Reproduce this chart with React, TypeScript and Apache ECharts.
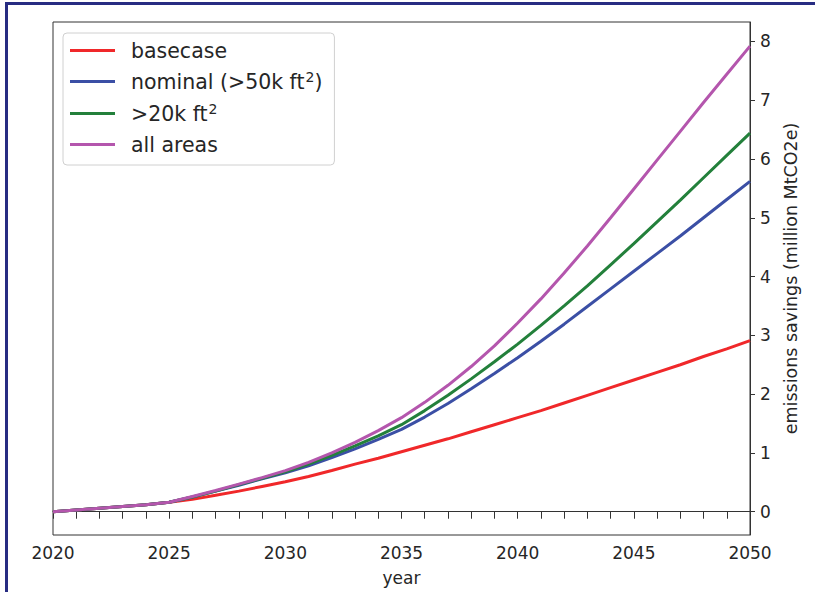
import React, { useEffect, useRef } from "react";
import * as echarts from "echarts";

// Projection years and cumulative emissions savings (million MtCO2e)
const years = [
  2020, 2021, 2022, 2023, 2024, 2025, 2026, 2027, 2028, 2029, 2030,
  2031, 2032, 2033, 2034, 2035, 2036, 2037, 2038, 2039, 2040,
  2041, 2042, 2043, 2044, 2045, 2046, 2047, 2048, 2049, 2050,
];

const basecase = [
  0, 0.03, 0.06, 0.09, 0.12, 0.16, 0.21, 0.28, 0.35, 0.43, 0.51,
  0.6, 0.7, 0.81, 0.91, 1.02, 1.13, 1.24, 1.36, 1.48, 1.6,
  1.72, 1.85, 1.98, 2.11, 2.24, 2.37, 2.5, 2.64, 2.77, 2.91,
];

const nominal = [
  0, 0.03, 0.06, 0.09, 0.12, 0.16, 0.25, 0.35, 0.45, 0.56, 0.66,
  0.78, 0.92, 1.07, 1.23, 1.4, 1.61, 1.84, 2.09, 2.35, 2.62,
  2.9, 3.19, 3.49, 3.79, 4.09, 4.39, 4.69, 5.0, 5.31, 5.62,
];

const over20k = [
  0, 0.03, 0.06, 0.09, 0.12, 0.16, 0.25, 0.35, 0.46, 0.57, 0.68,
  0.81, 0.96, 1.12, 1.29, 1.48, 1.72, 1.98, 2.26, 2.55, 2.85,
  3.17, 3.5, 3.84, 4.2, 4.56, 4.93, 5.3, 5.68, 6.06, 6.44,
];

const allAreas = [
  0, 0.03, 0.06, 0.09, 0.12, 0.16, 0.26, 0.36, 0.47, 0.58, 0.7,
  0.84, 1.0, 1.18, 1.38, 1.6, 1.86, 2.15, 2.47, 2.82, 3.21,
  3.62, 4.06, 4.52, 5.0, 5.49, 5.98, 6.47, 6.96, 7.44, 7.92,
];

const seriesNames = ["basecase", "nominal (>50k ft2)", ">20k ft2", "all areas"];
// Legend labels with the area unit's exponent raised as a superscript
const legendLabels: Record<string, string> = {
  "basecase": "{t|basecase}",
  "nominal (>50k ft2)": "{t|nominal (>50k ft}{s|2}{t|)}",
  ">20k ft2": "{t|>20k ft}{s|2}",
  "all areas": "{t|all areas}",
};
const seriesColors = ["#f0282a", "#3b4fa5", "#23803b", "#b456ad"];
const yTicks = [0, 1, 2, 3, 4, 5, 6, 7, 8];

const FONT = "DejaVu Sans";
const TEXT = "#262626";
const SPINE = "#333333";

export default function App() {
  const ref = useRef<HTMLDivElement>(null);

  useEffect(() => {
    if (!ref.current) return;
    const chart = echarts.init(ref.current, undefined, { renderer: "svg" });
    const values = [basecase, nominal, over20k, allAreas];

    chart.setOption({
      animation: false,
      backgroundColor: "#ffffff",
      textStyle: { fontFamily: FONT, color: TEXT },
      graphic: [
        { type: "rect", shape: { x: 5, y: 2, width: 810, height: 3 }, style: { fill: "#272c82" }, z: 100 },
        { type: "rect", shape: { x: 5, y: 2, width: 3, height: 590 }, style: { fill: "#272c82" }, z: 100 },
      ],
      grid: {
        left: 53,
        right: 65,
        top: 22,
        bottom: 57,
        show: true,
        borderColor: SPINE,
        borderWidth: 1,
        backgroundColor: "transparent",
      },
      legend: {
        orient: "vertical",
        left: 63,
        top: 33,
        padding: [7, 12, 10, 7],
        itemWidth: 45,
        itemHeight: 3,
        itemGap: 9,
        icon: "rect",
        borderColor: "#d0d0d0",
        borderWidth: 1,
        borderRadius: 4,
        backgroundColor: "rgba(255,255,255,0.8)",
        formatter: (name: string) => legendLabels[name] ?? name,
        textStyle: {
          fontFamily: FONT,
          color: TEXT,
          padding: [0, 0, 0, 11],
          rich: {
            t: { fontFamily: FONT, fontSize: 20.5, lineHeight: 22, color: TEXT },
            s: { fontFamily: FONT, fontSize: 14, lineHeight: 22, color: TEXT, padding: [0, 0, 9, 1] },
          },
        },
        data: seriesNames,
      },
      xAxis: {
        type: "value",
        min: 2020,
        max: 2050,
        interval: 5,
        name: "year",
        nameLocation: "middle",
        nameGap: 34,
        nameTextStyle: { fontFamily: FONT, fontSize: 17, color: TEXT },
        axisLine: { show: true, lineStyle: { color: SPINE, width: 1 } },
        axisTick: { show: true, length: 7, lineStyle: { color: SPINE } },
        minorTick: { show: true, splitNumber: 5, length: 7, lineStyle: { color: SPINE } },
        axisLabel: {
          fontFamily: FONT,
          fontSize: 17,
          color: TEXT,
          margin: 9,
          formatter: (v: number) => String(v),
        },
        splitLine: { show: false },
      },
      yAxis: {
        type: "value",
        position: "right",
        min: -0.396,
        max: 8.33,
        name: "emissions savings (million MtCO2e)",
        nameLocation: "middle",
        nameRotate: 90,
        nameGap: 32,
        nameTextStyle: { fontFamily: FONT, fontSize: 17.5, color: TEXT },
        axisLine: { show: true, lineStyle: { color: SPINE, width: 1 } },
        axisTick: { show: true, length: 5, lineStyle: { color: SPINE }, customValues: yTicks },
        axisLabel: { fontFamily: FONT, fontSize: 17, color: TEXT, margin: 10, customValues: yTicks },
        splitLine: { show: false },
      },
      series: seriesNames.map((name, i) => ({
        name,
        type: "line",
        data: years.map((yr, j) => [yr, values[i][j]]),
        showSymbol: false,
        symbol: "none",
        smooth: false,
        color: seriesColors[i],
        lineStyle: { width: 3, color: seriesColors[i] },
        z: 2 + i,
      })),
    });

    return () => chart.dispose();
  }, []);

  return (
    <div
      ref={ref}
      style={{ position: "fixed", left: 0, top: 0, width: 815, height: 592, background: "#fff" }}
    />
  );
}
